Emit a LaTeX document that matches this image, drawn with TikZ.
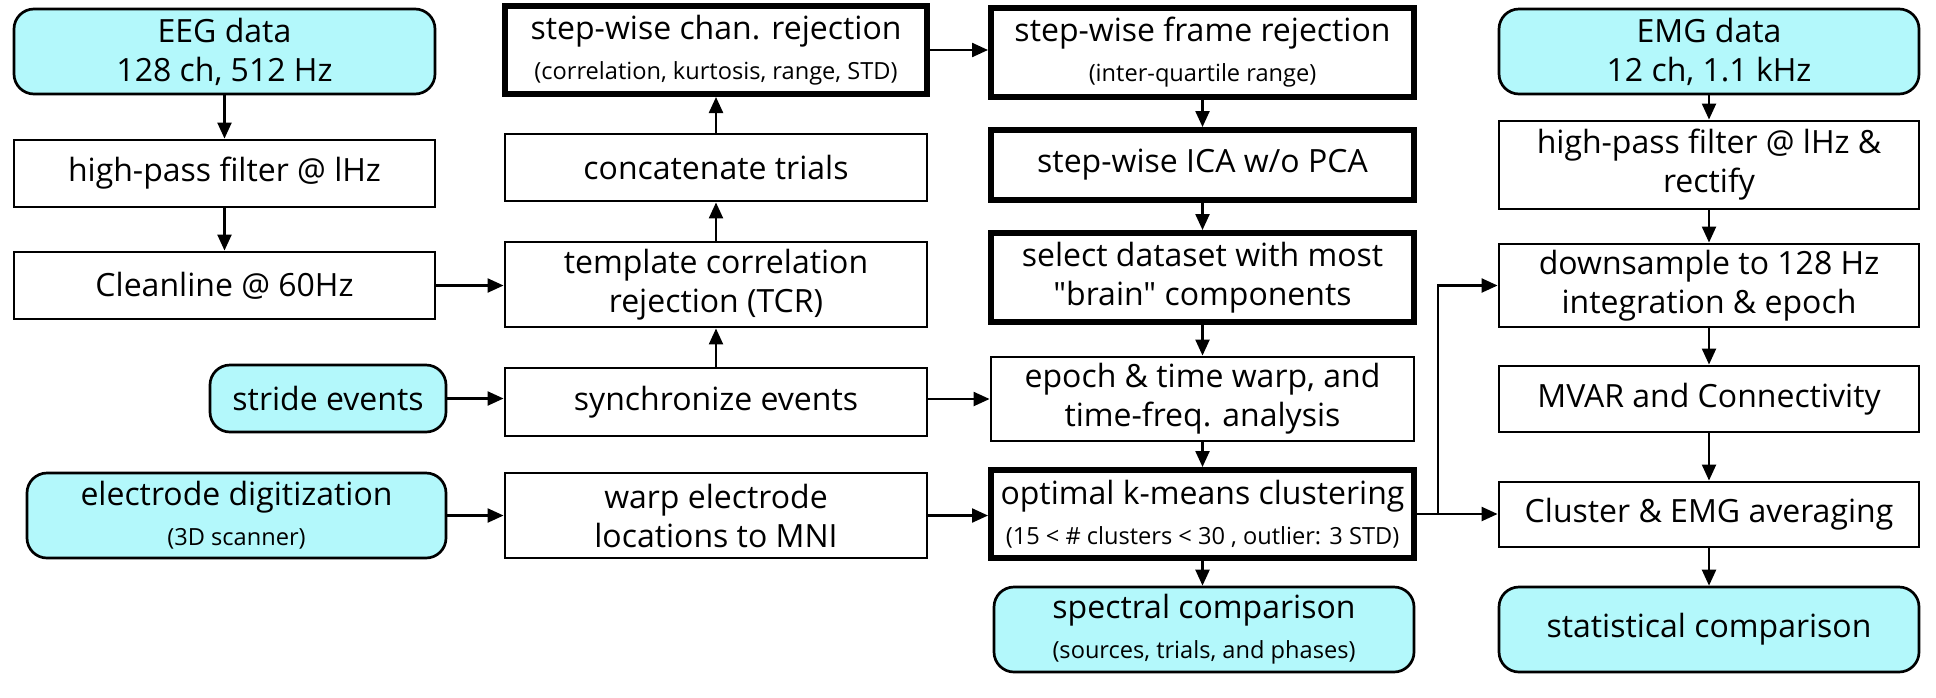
\documentclass[tikz,border=0pt]{standalone}
\usepackage{fontspec}
\setmainfont{Open Sans}[Ligatures=TeXOff]
\usetikzlibrary{arrows.meta}
\definecolor{cyanfill}{HTML}{B3F8FB}
\newcommand\mainsz{\fontsize{16}{19.5}\selectfont}
\newcommand\smallsz{\fontsize{11.8}{14}\selectfont}
\tikzset{
 plain/.style={draw, line width=1.45pt, fill=white, align=center, inner sep=0pt, font=\mainsz},
 heavy/.style={plain, line width=3pt},
 term/.style={plain, fill=cyanfill, rounded corners=10pt, line width=1.35pt},
 arr/.style={line width=1.15pt, -{Triangle[length=8pt,width=7pt]}},
}
\newcommand\mybox[7]{\node[#6, minimum width={(#4-#2)*0.5pt}, minimum height={(#5-#3)*0.5pt}] (#1) at ({(#2+#4)/2},{(#3+#5)/2}) {#7};}
\begin{document}
\begin{tikzpicture}[x=0.5pt,y=-0.5pt]
\useasboundingbox (0,0) rectangle (1936,697);
% column 1
\mybox{eeg}{14}{9}{435}{94}{term}{EEG data\\128 ch, 512 Hz}
\mybox{hpf}{14}{140}{435}{207}{plain}{high-pass filter @ lHz}
\mybox{clean}{14}{252}{435}{319}{plain}{Cleanline @ 60Hz}
\mybox{stride}{210}{365}{446}{432}{term}{stride events}
\mybox{elec}{27}{473}{446}{558}{term}{electrode digitization\\[0.5pt]{\smallsz (3D scanner)}}
% column 2
\mybox{chan}{505}{6}{927}{94}{heavy}{step-wise chan. rejection\\[0.5pt]{\smallsz (correlation, kurtosis, range, STD)}}
\mybox{concat}{505}{134}{927}{201}{plain}{concatenate trials}
\mybox{tcr}{505}{242}{927}{327}{plain}{template correlation\\rejection (TCR)}
\mybox{sync}{505}{368}{927}{436}{plain}{synchronize events}
\mybox{warp}{505}{473}{927}{558}{plain}{warp electrode\\locations to MNI}
% column 3
\mybox{frame}{991}{8}{1414}{97}{heavy}{step-wise frame rejection\\[0.5pt]{\smallsz (inter-quartile range)}}
\mybox{ica}{991}{130}{1414}{200}{heavy}{step-wise ICA w/o PCA}
\mybox{sel}{991}{233}{1414}{322}{heavy}{select dataset with most\\"brain" components}
\mybox{epoch}{991}{357}{1414}{441}{plain}{epoch \& time warp, and\\time-freq. analysis}
\mybox{kmeans}{991}{470}{1414}{558}{heavy}{optimal k-means clustering\\[0.5pt]{\smallsz (15 < \# clusters < 30 , outlier: 3 STD)}}
\mybox{spec}{994}{587}{1414}{672}{term}{spectral comparison\\[0.5pt]{\smallsz (sources, trials, and phases)}}
% column 4
\mybox{emg}{1499}{9}{1919}{94}{term}{EMG data\\12 ch, 1.1 kHz}
\mybox{hpf2}{1499}{121}{1919}{209}{plain}{high-pass filter @ lHz \&\\rectify}
\mybox{down}{1499}{244}{1919}{327}{plain}{downsample to 128 Hz\\integration \& epoch}
\mybox{mvar}{1499}{366}{1919}{432}{plain}{MVAR and Connectivity}
\mybox{clus}{1499}{482}{1919}{547}{plain}{Cluster \& EMG averaging}
\mybox{stat}{1499}{587}{1919}{672}{term}{statistical comparison}
\coordinate (br) at (1438,515);
% connectors
\draw[arr] (eeg) -- (hpf);
\draw[arr] (hpf) -- (clean);
\draw[arr] (clean.east) -- (clean.east -| tcr.west);
\draw[arr] (stride.east) -- (stride.east -| sync.west);
\draw[arr] (elec.east) -- (elec.east -| warp.west);
\draw[arr] (sync) -- (tcr);
\draw[arr] (tcr) -- (concat);
\draw[arr] (concat) -- (chan);
\draw[arr] (chan.east) -- (chan.east -| frame.west);
\draw[arr] (epoch.west -| sync.east) -- (epoch.west);
\draw[arr] (warp.east) -- (warp.east -| kmeans.west);
\draw[arr] (frame) -- (ica);
\draw[arr] (ica) -- (sel);
\draw[arr] (sel) -- (epoch);
\draw[arr] (epoch) -- (kmeans);
\draw[arr] (kmeans.south) -- (kmeans.south |- spec.north);
\draw[arr] (emg) -- (hpf2);
\draw[arr] (hpf2) -- (down);
\draw[arr] (down) -- (mvar);
\draw[arr] (mvar) -- (clus);
\draw[arr] (clus) -- (stat);
\draw[arr] (kmeans.east) -- (kmeans.east -| clus.west);
\draw[arr] (br |- kmeans.east) |- (down.west);
\end{tikzpicture}
\end{document}
